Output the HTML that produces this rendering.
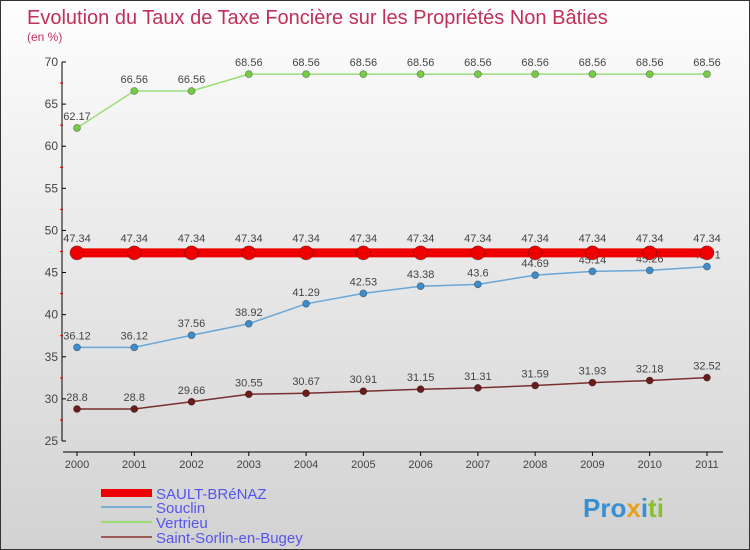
<!DOCTYPE html>
<html><head><meta charset="utf-8"><style>
body{margin:0;}
#c{width:750px;height:550px;position:relative;overflow:hidden;box-sizing:border-box;border:1px solid #333;background:linear-gradient(#fefefe,#f2f2f2 25%,#d2d2d2);font-family:"Liberation Sans",sans-serif;}
svg{position:absolute;left:0;top:0}
</style></head><body>
<div id="c">
<svg id="s" width="750" height="550">
<text x="26" y="23" font-size="20" fill="#c0305a">Evolution du Taux de Taxe Foncière sur les Propriétés Non Bâties</text>
<text x="26" y="40" font-size="12" fill="#c0305a">(en %)</text>
</svg>
</div>
<script>
const years=["2000","2001","2002","2003","2004","2005","2006","2007","2008","2009","2010","2011"];
const sault=[47.34,47.34,47.34,47.34,47.34,47.34,47.34,47.34,47.34,47.34,47.34,47.34];
const souclin=[36.12,36.12,37.56,38.92,41.29,42.53,43.38,43.6,44.69,45.14,45.26,45.71];
const vertrieu=[62.17,66.56,66.56,68.56,68.56,68.56,68.56,68.56,68.56,68.56,68.56,68.56];
const sorlin=[28.8,28.8,29.66,30.55,30.67,30.91,31.15,31.31,31.59,31.93,32.18,32.52];
const yTicks=[25,30,35,40,45,50,55,60,65,70];
const NS="http://www.w3.org/2000/svg";
const s=document.getElementById('s');
const X=i=>76+i*57.27;
const Y=v=>440-(v-25)*(379/45);
function mk(t,a,p){const e=document.createElementNS(NS,t);for(const k in a)e.setAttribute(k,a[k]);(p||s).appendChild(e);return e;}
// axes
let ax=mk('line',{x1:61,y1:61,x2:61,y2:440,stroke:'#000','stroke-width':1});


yTicks.forEach(v=>{
 mk('line',{x1:61,y1:Y(v),x2:65,y2:Y(v),stroke:'#000'});
 if(v<70) mk('line',{x1:59,y1:Y(v+2.5),x2:62,y2:Y(v+2.5),stroke:'#d00'});
 const t=mk('text',{x:57,y:Y(v)+4,'font-size':12,fill:'#444','text-anchor':'end'});t.textContent=v;
 
 
});
let xa=mk('line',{x1:62,y1:451,x2:722,y2:451,stroke:'#000'});


years.forEach((y,i)=>{
 mk('line',{x1:X(i),y1:451,x2:X(i),y2:455,stroke:'#000'});
 const t=mk('text',{x:X(i),y:467,'font-size':11,fill:'#444','text-anchor':'middle'});t.textContent=y;
 
 
});
function series(d,col,dot,lw,r,name,lab){
 const g=mk('g',{});
 
 
 mk('polyline',{points:d.map((v,i)=>X(i)+','+Y(v)).join(' '),fill:'none',stroke:col,'stroke-width':lw},g);
 d.forEach((v,i)=>{
  const c=mk('circle',{cx:X(i),cy:Y(v),r:r,fill:dot,stroke:'rgba(0,0,0,0.35)','stroke-width':0.8},g);
  
  
  const t=mk('text',{x:X(i),y:Y(v)-lab,'font-size':11,fill:'#444','text-anchor':'middle'},g);t.textContent=v;
 });
}
series(vertrieu,'#99dd77','#77cc44',1.5,3.5,'vertrieu-series',8);
series(souclin,'#6aa6d6','#3d8ccc',1.5,3.5,'souclin-series',8);
series(sorlin,'#7a3030','#6a1c1c',1.5,3.5,'saint-sorlin-series',8);
series(sault,'#ee0000','#ee0000',9,7,'sault-brenaz-series',11);
// legend
const L=[['SAULT-BRéNAZ','#ee0000',8,498],['Souclin','#7aaed2',2,512],['Vertrieu','#99dd77',2,527],['Saint-Sorlin-en-Bugey','#9a5a5a',2,542]];
L.forEach(l=>{
 const g=mk('g',{});
 
 
 mk('line',{x1:100,y1:l[3]-6,x2:151,y2:l[3]-6,stroke:l[1],'stroke-width':l[2]},g);
 const t=mk('text',{x:155,y:l[3],'font-size':15,fill:'#5555ee'},g);t.textContent=l[0];
});
const lg=mk('text',{x:582,y:516,'font-size':26,'font-weight':'bold',fill:'#e58a1e'});


lg.innerHTML='<tspan fill="#3a8fd0">Pro</tspan><tspan fill="#e8a020">x</tspan><tspan fill="#3a8fd0">i</tspan><tspan fill="#88c030">ti</tspan>';
</script>
</body></html>
